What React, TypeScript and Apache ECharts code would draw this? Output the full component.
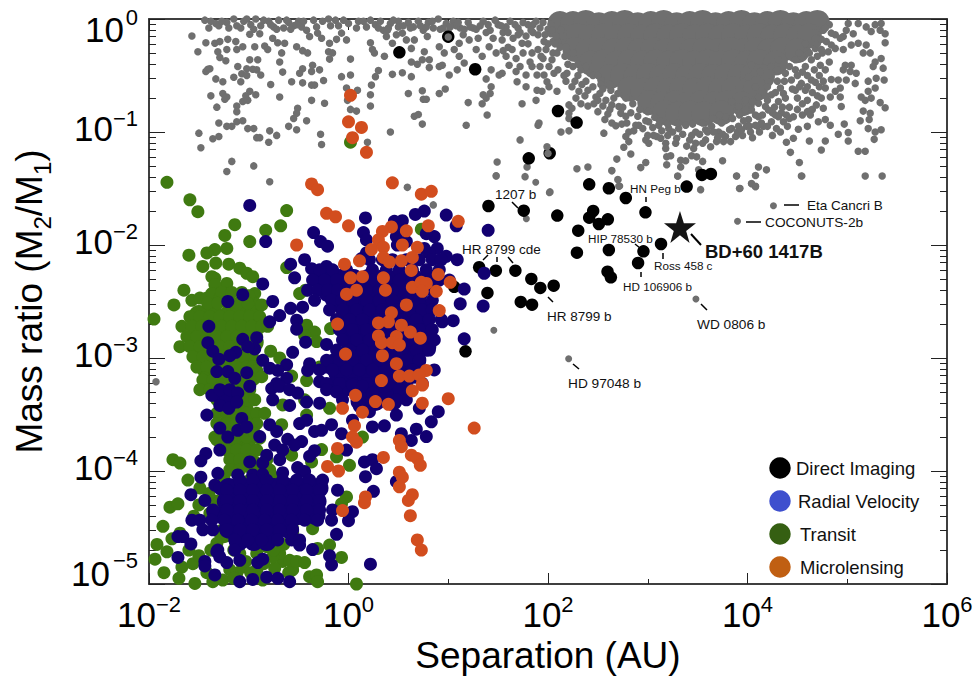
import React, { useEffect, useRef } from "react";
import * as echarts from "echarts";

const grayScatterLeft = [
-1.57,-.15,-1.43,-.21,-1.51,-.29,-1.34,-.215,-1.29,-.2,-1.21,-.18,-1.13,-.2,-1.22,-.27,-1.12,-.27,-1.31,-.29,-1.29,-.34,-1.23,-.37,-1.06,-.245,-.94,-.245,-.84,-.24,-.81,-.27,-.99,-.135,-.89,-.13,-.76,-.17,-.71,-.21,-.64,-.215,-.52,-.245,-.46,-.28,-.41,-.3,-.39,-.155,-.31,-.125,-.27,-.17,-.19,-.215,-.12,-.18,-.07,-.125,-.02,-.185,-.2,-.29,-.16,-.3,-.19,-.355,.02,-.355,-.67,-.3,-.69,-.38,-.99,-.36,-1.11,-.42,-1.02,-.44,-.91,-.36,-.92,-.45,-.96,-.445,-.88,-.495,-.66,-.47,-.46,-.44,-.49,-.48,-.37,-.465,-.36,-.41,-.29,-.45,-1.41,-.445,-1.43,-.465,-1.39,-.44,-1.33,-.53,-1.26,-.555,-1.15,-.515,-1.07,-.485,-1.02,-.5,-1.08,-.555,-.78,-.58,-.57,-.555,-.46,-.565,-.37,-.585,-.34,-.585,-.25,-.545,-.07,-.51,.02,-.495,-.02,-.61,.09,-.63,.22,-.67,.23,-.585,.27,-.51,.3,-.455,.44,-.49,.54,-.475,.63,-.51,
-1.38,-.68,-1.26,-.66,-1.22,-.69,-1.24,-.71,-1.32,-.78,-1.12,-.77,-1.12,-.82,-1.06,-.73,-1.01,-.72,-1.03,-.68,-.99,-.64,-.93,-.67,-.69,-.69,-.37,-.72,-.24,-.745,-.51,-.79,-.52,-.835,-.55,-.88,-.42,-.9,.02,-.8,.08,-.815,.22,-.77,-.01,-.72,.75,-.71,.78,-.71,.74,-.635,.6,-.66,.91,-.66,.97,-.62,1.2,-.74,1.34,-.75,1.38,-.7,1.35,-.67,1.42,-.66,1.43,-.6,1.39,-.85,1.74,-.75,1.88,-.72,1.9,-.94,.66,-.86,.7,-.845,.74,-.93,1.18,-.94,
-1.3,-.92,-1.22,-.95,-1.17,-.95,-1.12,-.91,-1.06,-.9,-1.01,-.97,-.95,-.97,-.6,-.95,-.52,-.98,-.79,-.99,-1.5,-1.01,-1.36,-1.06,-1.3,-1.04,-.92,-1.05,-.89,-1.05,-.8,-1.09,-.72,-1.03,-.28,-1.02,-.27,-1.11,-1.48,-1.14,.19,-1.09,.42,-1,1.72,-1.07,1.49,-1.265,1.48,-1.39,-1.17,-1.26,-.95,-1.3,-1.22,-1.35,-.79,-1.44,.59,-1.49,.85,-1.645,1.79,-1.31,1.77,-1.395,-1.93,-3.21,
];
const grayScatterMiddle = [
.22,-.21,.24,-.27,.26,-.3,.36,-.33,.38,-.155,.39,-.1,.44,-.215,.48,-.14,.54,-.125,.58,-.185,.63,-.26,.66,-.185,.76,-.29,.79,-.155,.74,-.36,.81,-.36,.63,-.38,.69,-.4,.81,-.43,.91,-.42,.94,-.41,1.01,-.495,1.09,-.45,1.16,-.39,1.11,-.33,1.06,-.27,.96,-.3,.91,-.245,1.11,-.215,1.21,-.185,1.28,-.27,1.34,-.33,1.41,-.245,1.48,-.3,1.54,-.185,1.58,-.33,1.64,-.27,1.74,-.215,1.84,-.3,1.54,-.48,1.61,-.41,1.68,-.465,1.69,-.555,1.78,-.495,1.78,-.6,1.89,-.63,1.43,-.45,1.38,-.53,1.51,-.495,1.84,-.42,1.89,-.495,1.55,-.28,1.68,-.35,1.75,-.3,1.82,-.38,1.92,-.42,1.96,-.2,1.72,-.42,
];
const grayTopBand = [
-1.44,-.01,-1.4,-.08,-1.33,-.04,-1.3,-.06,-1.22,-.03,-1.15,0,-1.12,-.06,-1.05,-.02,-.98,-.05,-.93,0,-.88,-.06,-.8,-.02,-.75,-.07,-.7,-.01,-.65,-.08,-.6,-.03,-.55,-.06,-.5,-.02,-.47,-.07,-.35,-.01,-.2,0,-.13,-.01,-.05,-.01,.08,-.08,.18,-.07,.27,-.05,.35,-.1,.42,-.04,.5,-.02,.6,-.03,.7,-.02,.8,-.03,.9,0,.98,-.04,1.05,-.02,1.12,-.08,1.2,-.03,1.28,-.09,1.35,-.02,1.42,-.1,1.5,-.05,1.55,-.12,1.62,-.02,1.7,-.08,1.78,-.15,1.85,-.05,1.9,-.14,1.95,-.03,2,-.09,2.05,-.2,1.65,-.17,1.45,-.17,1.3,-.17,1.15,-.14,1,-.12,.85,-.08,.65,-.07,.5,-.07,.32,-.02,.75,-.1,.92,-.09,1.08,-.06,1.25,-.08,1.4,-.05,1.58,-.07,1.75,-.03,1.6,-.25,1.7,-.14,1.8,-.22,1.85,-.12,1.9,-.27,1.95,-.35,2,-.22,2.05,-.3,2.1,-.2,
-1.38,-.02,-1.27,-.02,-1.2,-.08,-1.08,-.08,-1.02,0,-.95,-.09,-.85,-.01,-.78,-.05,-.72,-.09,-.62,-.01,-.58,-.09,-.52,-.05,-.45,-.02,-.42,-.1,-.32,-.07,-.26,-.02,-.18,-.06,-.1,-.06,0,-.04,.1,-.02,.15,-.02,.22,-.01,.3,-.08,.4,-.08,.45,-.01,.55,-.06,.62,-.08,.72,-.06,.78,-.07,.84,-.02,.95,-.08,1.02,-.07,1.1,-.03,1.16,-.09,1.22,-.07,1.32,-.06,1.38,-.12,1.47,-.01,1.53,-.06,1.6,-.12,1.67,-.05,1.72,-.12,1.8,-.05,1.83,-.1,1.88,-.02,1.92,-.08,1.97,-.14,2.03,-.05,2.03,-.13,
];
const grayRight = [
5.01,-.04,5.11,-.04,5.19,-.07,5.28,-.05,5.34,-.04,5.38,-.13,5.38,-.21,5.33,-.1,5.24,-.11,5.06,-.13,4.99,-.1,4.88,-.14,4.96,-.155,4.84,-.125,4.93,-.17,4.79,-.2,4.84,-.23,4.74,-.27,4.81,-.29,4.88,-.26,4.96,-.27,5.04,-.23,5.11,-.215,5.19,-.23,5.16,-.3,5.23,-.3,5.28,-.38,5.34,-.35,5.36,-.435,5.26,-.42,5.04,-.41,4.98,-.41,4.96,-.45,5.03,-.465,5.09,-.48,4.99,-.54,5.08,-.57,5.21,-.55,5.29,-.525,5.37,-.54,5.28,-.61,5.21,-.64,5.14,-.69,5.18,-.72,5.24,-.7,5.33,-.74,5.38,-.785,5.16,-.815,5.23,-.835,5.22,-.89,5.13,-.9,5.21,-.97,5.28,-1,5.34,-.98,5.27,-1.065,5.11,-1.17,5.18,-1.17,5.18,-1.39,5.35,-1.39,
4.91,-.54,4.84,-.535,4.78,-.61,4.88,-.64,4.93,-.61,4.93,-.69,4.83,-.69,4.74,-.7,4.69,-.76,4.76,-.79,4.94,-.775,4.64,-.805,4.63,-.85,4.71,-.91,4.78,-.89,4.83,-.94,4.97,-.93,4.91,-1.02,5.01,-1.005,5.01,-1.08,4.74,-1.16,4.78,-1.08,4.62,-1.08,4.54,-1.39,4.52,-1.27,4.43,-1.18,4.39,-1.09,4.46,-1.055,4.51,-.975,4.46,-.865,4.39,-.85,4.31,-.865,4.36,-.91,4.29,-.97,4.24,-.91,4.28,-.85,4.21,-.805,4.14,-.92,4.08,-.94,
];
const grayBlobEdge = [
3.99,-.95,4.03,-1,3.95,-1.03,3.88,-1.04,3.83,-1.085,3.76,-1.085,3.69,-1.085,3.63,-1.13,3.58,-1.07,3.48,-1.1,3.46,-1.145,3.39,-1.125,3.29,-1.055,3.18,-1.1,3.18,-1.145,3.19,-1.22,3.23,-1.21,3.19,-1.29,3.33,-1.25,3.38,-1.255,3.33,-1.31,3.44,-1.21,3.49,-1.22,3.55,-1.26,3.75,-1.255,3.51,-1.335,3.3,-1.39,3.89,-1.39,4.08,-1.385,4.11,-1.31,4.19,-1.335,4.04,-1.455,4.08,-1.485,3.92,-1.5,3.53,-1.51,
3.01,-1.1,2.98,-1.07,3.09,-1.04,3.13,-1.055,2.91,-.94,2.81,-1,2.78,-1.04,2.81,-1.085,2.76,-1.135,2.83,-1.195,2.69,-1.24,2.98,-1.27,2.93,-1.315,2.64,-1.34,2.4,-1.31,2.29,-1.325,2.7,-1.42,2.71,-1.48,2.02,-1.53,2.56,-1.01,2.57,-.89,2.68,-.945,2.74,-.93,2.79,-.92,2.88,-.94,2.21,-.99,2.13,-1,2.4,-.77,2.33,-.75,2.21,-.76,2.24,-.79,2.21,-.835,2.21,-.88,2.5,-.82,2.55,-.77,2.64,-.76,2.71,-.775,2.73,-.835,2.48,-.69,1.99,-.555,1.91,-.92,1.96,-.495,1.94,-.64,2.01,-.6,2.09,-.64,2.24,-.6,2.31,-.64,2.34,-.58,2.19,-.48,2.04,-.36,2.01,-.42,2.06,-.48,1.93,-.33,2.09,-.3,1.98,-.27,2.04,-.1,2.63,-.63,2.53,-.54,2.53,-.58,
3.31,-.97,3.38,-.94,3.58,-.98,3.71,-1,3.84,-.97,3.91,-.95,4.01,-.89,4.11,-.865,4.04,-.805,4.18,-.775,4.31,-.73,4.11,-.745,3.91,-.775,3.84,-.73,3.98,-.72,4.11,-.69,4.24,-.67,4.38,-.7,4.48,-.63,4.58,-.63,4.64,-.54,4.54,-.57,4.44,-.54,4.33,-.61,4.21,-.555,4.08,-.6,4.01,-.51,4.13,-.465,4.24,-.42,4.38,-.48,4.48,-.45,4.58,-.42,4.64,-.36,4.73,-.41,4.54,-.33,4.68,-.26,4.48,-.36,4.31,-.36,4.04,-.41,3.01,-.91,3.11,-.94,3.21,-.97,3.48,-1,3.64,-.95,3.74,-.92,3.78,-.865,
2.12,-.25,2.17,-.33,2.25,-.42,2.3,-.5,2.38,-.55,2.45,-.6,2.52,-.66,2.58,-.72,2.66,-.7,2.75,-.78,2.83,-.83,2.9,-.86,2.98,-.9,3.05,-.96,3.14,-.99,3.25,-1,3.35,-1.02,3.44,-1.03,3.52,-1.02,3.6,-1,3.66,-1,3.75,-1.02,3.82,-.98,3.9,-1,3.96,-.9,4.02,-.95,4.08,-.85,4.15,-.85,4.2,-.72,4.27,-.78,4.35,-.78,4.42,-.78,4.5,-.7,4.55,-.75,4.6,-.72,4.65,-.65,4.72,-.6,4.72,-.5,4.78,-.45,4.82,-.38,4.7,-.22,4.76,-.1,4.82,-.05,4.68,-.12,2.15,-.15,2.3,-.4,2.42,-.48,2.16,-.5,2.28,-.7,2.37,-.68,2.46,-.75,2.6,-.84,2.64,-.92,2.86,-.99,3,-1.03,3.28,-1.1,3.42,-1.07,3.55,-1.1,3.7,-1.05,3.78,-1.04,3.94,-.98,4.16,-.95,4.25,-1.03,4.33,-1,4.4,-.95,4.55,-.85,4.6,-.95,4.65,-.8,4.05,-1.05,
];
const grayDense = [
4.3,-.45,4.37,-.55,4.42,-.42,4.5,-.5,4.55,-.47,4.6,-.5,4.67,-.45,4.7,-.33,4.75,-.3,4.6,-.28,4.68,-.17,4.74,-.18,4.78,-.08,4.62,-.3,4.52,-.3,4.58,-.22,4.45,-.62,4.36,-.66,4.28,-.65,4.52,-.6,4.6,-.6,4.68,-.56,4.76,-.55,4.7,-.68,4.6,-.82,4.5,-.8,4.42,-.88,4.34,-.83,4.25,-.83,4.2,-.95,4.12,-1,4.18,-.68,4.3,-.55,4.2,-.6,
2.08,-.15,2.13,-.1,2.07,-.22,2.18,-.25,2.25,-.3,2.2,-.4,2.33,-.45,2.38,-.42,2.45,-.5,2.5,-.5,2.55,-.62,2.62,-.58,2.7,-.66,2.78,-.7,2.85,-.75,2.92,-.8,3,-.82,3.07,-.87,3.12,-.9,3.2,-.93,2.1,-.45,2.18,-.55,2.27,-.55,2.4,-.63,2.5,-.72,2.62,-.8,2.78,-.86,2.95,-.97,3.06,-1.03,3.2,-1.03,
3.3,-.92,3.45,-.93,3.55,-.92,3.65,-.88,3.72,-.85,3.85,-.88,3.92,-.85,3.98,-.8,4.05,-.73,4.1,-.95,
];
const grayAnnotated = [
4.26,-1.652,3.9,-1.79,3.483,-2.478,2.207,-3.006,1.457,-2.755,1.783,-1.767,2.013,-1.537,1.877,-1.445,1.48,-1.386,2.72,-1.478,2.703,-1.424,2.64,-1.345,3.3,-1.392,3.893,-1.389,3.927,-1.498,4.043,-1.46,4.083,-1.478,4.547,-1.389,
];
// The solid core of the dense cloud, read as overlapping wide marks.
const grayCore = [
2.12,-.04,2.25,-.04,2.38,-.03,2.51,-.05,2.64,-.04,2.77,-.03,2.9,-.05,3.03,-.04,3.16,-.03,3.29,-.05,3.42,-.04,3.55,-.03,3.68,-.05,3.81,-.04,3.94,-.03,4.07,-.05,4.2,-.04,4.33,-.03,4.46,-.05,4.59,-.04,4.7,-.03,
2.17,-.16,2.3,-.15,2.43,-.16,2.56,-.15,2.69,-.16,2.82,-.15,2.95,-.16,3.08,-.15,3.21,-.16,3.34,-.15,3.47,-.16,3.6,-.15,3.73,-.16,3.86,-.15,3.99,-.16,4.12,-.15,4.25,-.16,4.38,-.15,4.51,-.16,4.62,-.15,
2.27,-.27,2.4,-.28,2.53,-.27,2.66,-.28,2.79,-.27,2.92,-.28,3.05,-.27,3.18,-.28,3.31,-.27,3.44,-.28,3.57,-.27,3.7,-.28,3.83,-.27,3.96,-.28,4.09,-.27,4.22,-.28,4.35,-.27,4.5,-.28,
2.43,-.39,2.56,-.38,2.69,-.39,2.82,-.38,2.95,-.39,3.08,-.38,3.21,-.39,3.34,-.38,3.47,-.39,3.6,-.38,3.73,-.39,3.86,-.38,3.99,-.39,4.12,-.38,4.28,-.39,
2.62,-.51,2.75,-.5,2.88,-.51,3.01,-.5,3.14,-.51,3.27,-.5,3.4,-.51,3.53,-.5,3.66,-.51,3.79,-.5,3.92,-.51,4.05,-.5,4.15,-.51,
2.82,-.62,2.95,-.63,3.08,-.62,3.21,-.63,3.34,-.62,3.47,-.63,3.6,-.62,3.73,-.63,3.86,-.62,4.0,-.63,4.08,-.62,
3.02,-.74,3.15,-.75,3.28,-.74,3.41,-.75,3.54,-.74,3.67,-.75,3.8,-.74,3.95,-.75,
3.17,-.83,3.3,-.84,3.43,-.83,3.56,-.84,3.74,-.83,
];
const grayOver = [1.0,-.16,2.0,-1.19,1.99,-1.13];

const blackPoints = [
1.403,-1.655,1.757,-1.696,2.093,-1.74,2.413,-1.463,2.61,-1.498,2.78,-1.584,2.977,-1.711,3.39,-1.483,3.543,-1.38,3.633,-1.371,2.453,-1.699,2.413,-1.758,2.51,-1.814,2.6,-1.773,2.303,-1.873,2.29,-2.068,2.61,-2.044,3.133,-1.991,2.957,-2.056,2.903,-2.159,2.597,-2.236,2.63,-2.286,1.31,-2.197,1.477,-2.227,1.673,-2.227,1.833,-2.3,1.923,-2.38,2.057,-2.36,1.727,-2.504,1.84,-2.528,1.393,-2.424,1.173,-2.941,.51,-.295,1.0,-.156,1.27,-.445,1.807,-1.233,2.1,-.814,2.287,-.917,2.017,-1.188,1.06,-2.37,
];
const starPoint = [3.323,-1.84];

const greenPoints = [
-1.82,-1.445,-1.59,-1.6,-1.51,-1.705,-.62,-1.695,-1.14,-1.82,-.68,-1.83,-.83,-1.87,-1.24,-1.915,-.99,-1.97,-1.22,-2.03,-1.34,-2.04,-1.42,-2.07,-1.6,-2.09,-1.46,-2.19,-1.33,-2.16,-1.2,-2.17,-1.09,-2.205,-1.02,-2.25,-.96,-2.28,-1.34,-2.295,-1.22,-2.34,-1.65,-2.4,-1.75,-2.53,-1.95,-2.655,-1.57,-2.49,-1.49,-2.47,-1.42,-2.47,-.94,-2.43,-.94,-2.515,-.87,-2.53,-1.37,-2.28,-1.34,-2.35,-1.37,-2.43,-1.29,-2.47,-1.27,-2.42,-1.17,-2.42,-1.07,-2.42,-1,-2.45,
-1.41,-2.515,-1.31,-2.515,-1.21,-2.515,-1.11,-2.515,-1.01,-2.515,-1.59,-2.634,-1.49,-2.634,-1.39,-2.634,-1.29,-2.634,-1.19,-2.634,-1.09,-2.634,-.99,-2.634,-.89,-2.634,-1.67,-2.72,-1.57,-2.72,-1.47,-2.72,-1.37,-2.72,-1.27,-2.72,-1.17,-2.72,-1.07,-2.72,-.97,-2.72,-.87,-2.72,-.81,-2.72,
-1.62,-2.81,-1.52,-2.81,-1.42,-2.81,-1.32,-2.81,-1.22,-2.81,-1.12,-2.81,-1.02,-2.81,-.92,-2.81,-1.69,-2.9,-1.59,-2.9,-1.49,-2.9,-1.39,-2.9,-1.29,-2.9,-1.19,-2.9,-1.09,-2.9,-.99,-2.9,-1.56,-2.99,-1.46,-2.99,-1.36,-2.99,-1.26,-2.99,-1.16,-2.99,-1.06,-2.99,-1.52,-3.08,-1.42,-3.08,-1.32,-3.08,-1.22,-3.08,-1.12,-3.08,-1.02,-3.08,-.96,-3.08,-1.44,-3.18,-1.34,-3.18,-1.24,-3.18,-1.14,-3.18,-1.04,-3.18,-.94,-3.18,
-1.46,-3.195,-1.36,-3.195,-1.26,-3.195,-1.16,-3.195,-1.06,-3.195,-.96,-3.195,-1.49,-3.28,-1.39,-3.28,-1.29,-3.28,-1.19,-3.28,-1.09,-3.28,-.99,-3.28,-1.32,-3.37,-1.22,-3.37,-1.12,-3.37,-1.02,-3.37,-.94,-3.37,-1.32,-3.49,-1.22,-3.49,-1.12,-3.49,-1.02,-3.49,-.92,-3.49,-.84,-3.49,-1.32,-3.58,-1.22,-3.58,-1.12,-3.58,-1.02,-3.58,-.92,-3.58,-1.34,-3.7,-1.22,-3.7,-1.12,-3.7,-1.02,-3.7,-.92,-3.7,-1.22,-3.815,-1.12,-3.815,-1.02,-3.815,-.92,-3.815,-1.19,-3.9,-1.09,-3.9,-.99,-3.9,-.82,-3.9,-1.19,-3.99,-1.09,-3.99,-.96,-3.99,-.79,-3.99,
-1.76,-3.9,-1.69,-3.93,-1.61,-4.08,-1.49,-4.15,-1.79,-4.32,-1.71,-4.29,-1.86,-4.49,-1.92,-4.65,-1.82,-4.715,-1.94,-4.78,-1.77,-4.6,-1.69,-4.55,-1.67,-4.85,-1.56,-4.82,-1.32,-4.64,-1.36,-4.26,-1.39,-4.375,-1.29,-4.26,-1.54,-4.995,-1.36,-4.98,-1.26,-4.965,-1.19,-4.875,-1.12,-4.905,-1.06,-4.85,-.66,-4.8,-.59,-4.79,-.56,-4.875,-.52,-4.8,-.44,-4.81,-.74,-4.86,-.39,-4.935,-.32,-4.92,-.31,-4.98,-.07,-4.765,-.19,-4.655,-.31,-4.685,-.36,-4.51,-.56,-4.54,-.69,-4.73,-.72,-4.67,-.76,-4.76,.01,-3.95,-.12,-3.875,-.27,-3.81,-.37,-3.92,.08,-5,.14,-3.7,-.02,-4.23,-.07,-4.29,-.67,-3.59,-.89,-3.71,-.94,-3.67,-.42,-3.505,-.66,-3.415,-.44,-3.37,-.19,-3.445,-1.32,-3.725,-.57,-3.86,-.76,-4.05,-1.79,-5.04,-1.29,-5.02,-.92,-4.875,-.86,-4.965,-.99,-4.08,-1.09,-4.73,-.92,-4.73,-.82,-4.67,
-.42,-2.71,-.34,-2.77,-.44,-2.8,-.32,-2.855,-.18,-2.74,-.49,-2.43,-.43,-2.4,-.62,-2.2,-.3,-2.265,-.42,-3.2,-.29,-3.08,-.57,-3.16,-.78,-2.94,-.69,-3,-.92,-3.11,-.87,-3.165,.73,-1.86,.02,-1.09,
-1.85,-4.9,-1.7,-4.95,-1.6,-4.7,-1.5,-4.75,-1.42,-4.9,-1.38,-4.7,-1.15,-4.7,-1.03,-4.8,-.98,-4.9,-1.15,-4.95,-.85,-4.82,-.75,-4.7,-.65,-4.65,-.6,-4.9,-1,-4.55,-1.55,-4.4,-1.5,-4.3,-1.4,-4.2,-1.25,-4.05,-1.05,-4.1,-.9,-3.98,-.78,-4.2,
];
// The solid parts of the two crowded clouds, read as overlapping wide marks.
const greenCore = [
-1.5,-2.62,-1.35,-2.62,-1.2,-2.62,-1.05,-2.62,-.95,-2.62,-1.5,-2.74,-1.35,-2.74,-1.2,-2.74,-1.05,-2.74,-.95,-2.74,-1.5,-2.86,-1.35,-2.86,-1.2,-2.86,-1.05,-2.86,-.95,-2.86,-1.45,-2.98,-1.3,-2.98,-1.15,-2.98,-1,-2.98,-1.42,-3.1,-1.27,-3.1,-1.12,-3.1,-1,-3.1,-1.32,-3.22,-1.18,-3.22,-1.03,-3.22,-1.2,-3.34,-1.05,-3.34,-1.2,-3.46,-1.05,-3.46,-1.2,-3.58,-1.03,-3.58,-1.2,-3.7,-1.03,-3.7,-1.15,-3.82,-1,-3.82,-1.1,-3.94,-.97,-3.94,-1.1,-4.3,-.9,-4.3,-1.25,-4.55,-.6,-4.5,
];
const blueCore = [
-.25,-2.3,-.1,-2.3,.05,-2.3,.2,-2.3,.35,-2.3,.5,-2.3,.65,-2.3,.8,-2.3,-.2,-2.42,-.05,-2.42,.1,-2.42,.25,-2.42,.4,-2.42,.55,-2.42,.7,-2.42,-.05,-2.54,.1,-2.54,.25,-2.54,.4,-2.54,.55,-2.54,.7,-2.54,-.02,-2.66,.13,-2.66,.28,-2.66,.43,-2.66,.58,-2.66,.73,-2.66,.02,-2.78,.17,-2.78,.32,-2.78,.47,-2.78,.62,-2.78,.77,-2.78,.03,-2.9,.18,-2.9,.33,-2.9,.48,-2.9,.63,-2.9,.78,-2.9,-.02,-3.02,.13,-3.02,.28,-3.02,.43,-3.02,.58,-3.02,.68,-3.02,-.1,-3.14,.05,-3.14,.2,-3.14,.35,-3.14,.5,-3.14,.65,-3.14,-.05,-3.26,.1,-3.26,.25,-3.26,.4,-3.26,.55,-3.26,.12,-3.38,.27,-3.38,.44,-3.38,
-1.2,-4.15,-1.05,-4.15,-.9,-4.15,-.75,-4.15,-.6,-4.15,-.45,-4.15,-.3,-4.15,-1.22,-4.27,-1.07,-4.27,-.92,-4.27,-.77,-4.27,-.62,-4.27,-.47,-4.27,-.32,-4.27,-1.25,-4.39,-1.1,-4.39,-.95,-4.39,-.8,-4.39,-.65,-4.39,-.5,-4.39,-.33,-4.39,-1.2,-4.51,-1.05,-4.51,-.9,-4.51,-.75,-4.51,-.6,-4.51,-1.1,-4.62,-.95,-4.62,-.82,-4.62,-1.27,-3.33,-1.2,-3.38,
];

const bluePoints = [
.76,-1.7,.67,-1.73,.54,-1.785,.46,-1.79,.98,-1.735,1.08,-1.83,.17,-1.76,.15,-1.89,.18,-1.955,-.35,-1.89,-.28,-1.97,-.21,-2.01,-.83,-1.97,-.99,-1.65,.86,-1.925,.89,-2.03,.98,-2.1,1.09,-2.13,1.16,-2.39,1.12,-2.52,1.05,-2.67,.94,-2.68,1.16,-2.83,.78,-1.9,.48,-1.85,.48,-1.925,.58,-1.97,.49,-2,.76,-2.03,.81,-2.07,.18,-2.07,.13,-2.12,1.36,-2.25,1.4,-1.87,1.35,-2.54,
-.58,-2.17,-.44,-2.13,-.37,-2.21,-.54,-2.29,-.22,-2.19,-.86,-2.345,-1.06,-2.44,-1.21,-2.5,-.76,-2.5,-1.4,-2.72,-1.41,-2.865,-1.36,-2.94,-1.3,-3.01,-1.06,-2.835,-.92,-2.82,-.94,-2.92,-1.01,-2.9,-1.13,-2.95,-1.19,-2.98,-1.32,-3.12,-1.21,-3.12,-1.14,-3.18,-1.02,-3.13,-.79,-2.68,-.69,-2.625,-.58,-2.56,-.46,-2.55,-.52,-2.665,-.52,-2.745,-.43,-2.86,-.56,-2.95,-.86,-3.02,-.79,-3.09,-.62,-3.06,-.71,-3.11,-.62,-3.18,-.72,-3.225,-.39,-3.05,-.41,-3.11,-.29,-3.21,-.22,-2.88,-.16,-3.02,-.22,-3.08,-.14,-3.225,
.21,-2.13,.34,-2.13,.44,-2.13,.58,-2.13,.71,-2.13,.84,-2.13,.93,-2.13,-.29,-2.22,-.16,-2.22,-.02,-2.22,.24,-2.22,.38,-2.22,.51,-2.22,.64,-2.22,.78,-2.22,.91,-2.22,-.36,-2.31,-.24,-2.31,-.12,-2.31,-.01,-2.31,.11,-2.31,.24,-2.31,.38,-2.31,.51,-2.31,.64,-2.31,.78,-2.31,.91,-2.31,1.01,-2.31,-.41,-2.4,-.31,-2.4,-.21,-2.4,-.11,-2.4,.04,-2.4,.18,-2.4,.31,-2.4,.44,-2.4,.58,-2.4,.71,-2.4,.84,-2.4,
-.34,-2.49,-.17,-2.49,-.07,-2.49,.04,-2.49,.18,-2.49,.31,-2.49,.44,-2.49,.58,-2.49,.71,-2.49,.84,-2.49,-.19,-2.575,-.06,-2.575,.08,-2.575,.21,-2.575,.34,-2.575,.48,-2.575,.61,-2.575,.74,-2.575,.84,-2.575,-.12,-2.66,.01,-2.66,.14,-2.66,.28,-2.66,.41,-2.66,.54,-2.66,.68,-2.66,.81,-2.66,.93,-2.66,-.09,-2.75,.04,-2.75,.18,-2.75,.31,-2.75,.44,-2.75,.58,-2.75,.71,-2.75,.84,-2.75,-.06,-2.84,.08,-2.84,.21,-2.84,.34,-2.84,.48,-2.84,.61,-2.84,.74,-2.84,.86,-2.84,
-.12,-2.93,.01,-2.93,.14,-2.93,.28,-2.93,.41,-2.93,.54,-2.93,.68,-2.93,.81,-2.93,-.22,-3.02,-.09,-3.02,.04,-3.02,.18,-3.02,.31,-3.02,.44,-3.02,.58,-3.02,.71,-3.02,-.29,-3.106,-.16,-3.106,-.02,-3.106,.11,-3.106,.24,-3.106,.38,-3.106,.51,-3.106,.64,-3.106,.86,-3.106,-.22,-3.225,-.09,-3.225,.04,-3.225,.18,-3.225,.31,-3.225,.44,-3.225,.58,-3.225,.74,-3.225,
-1.37,-3.33,-1.29,-3.28,-1.19,-3.28,-1.11,-3.31,-1.29,-3.42,-1.2,-3.445,-1.12,-3.39,-.99,-3.25,-1.42,-3.505,-1.29,-3.62,-1.21,-3.7,-1.11,-3.64,-1.07,-3.535,-1.02,-3.61,-.79,-3.59,-.72,-3.65,-.89,-3.695,-.61,-3.72,-.49,-3.58,-.42,-3.55,-.34,-3.65,-.27,-3.64,-.17,-3.59,-.07,-3.67,.24,-3.61,.36,-3.6,.48,-3.505,.68,-3.63,.83,-3.565,.9,-3.475,.78,-3.695,.63,-3.73,.53,-3.67,-.02,-3.815,.16,-3.92,.24,-3.9,.28,-3.98,.17,-4.05,.48,-4.095,.25,-4.18,.04,-4.36,0,-4.44,-.12,-4.56,
-.77,-3.27,-.69,-3.25,-.59,-3.28,-.51,-3.31,-.42,-3.39,-.76,-3.37,-.59,-3.42,-.29,-3.4,-.22,-3.28,-.12,-3.3,-.06,-3.37,.04,-3.24,.14,-3.25,.24,-3.31,.41,-3.22,.51,-3.28,.58,-3.37,.71,-3.445,.11,-3.43,.21,-3.475,.04,-3.55,.48,-3.37,
-1.29,-3.815,-1.43,-3.845,-1.48,-3.91,-.99,-3.92,-.74,-3.77,-.66,-3.815,-.47,-3.74,-.54,-3.77,-.34,-3.82,-.39,-3.87,-.82,-3.86,-.86,-3.93,-.69,-3.9,-.51,-3.97,-.44,-4.005,-.66,-4.015,-1.48,-4.055,-1.31,-4.02,-1.34,-4.125,-1.29,-4.155,-1.11,-4.035,-.96,-4.035,-.86,-4.03,-1.58,-4.21,-1.44,-4.26,-1.36,-4.36,
-1.09,-4.08,-.96,-4.08,-.82,-4.08,-.66,-4.08,-.52,-4.08,-.39,-4.08,-.26,-4.08,-1.22,-4.17,-1.09,-4.17,-.96,-4.17,-.82,-4.17,-.69,-4.17,-.56,-4.17,-.42,-4.17,-.29,-4.17,-.11,-4.17,-1.22,-4.26,-1.09,-4.26,-.96,-4.26,-.82,-4.26,-.69,-4.26,-.56,-4.26,-.42,-4.26,-.29,-4.26,-1.36,-4.345,-1.22,-4.345,-1.09,-4.345,-.96,-4.345,-.82,-4.345,-.69,-4.345,-.56,-4.345,-.42,-4.345,-.29,-4.345,-.16,-4.345,
-1.57,-4.435,-1.49,-4.435,-1.37,-4.435,-1.24,-4.435,-1.11,-4.435,-.97,-4.435,-.84,-4.435,-.71,-4.435,-.57,-4.435,-.44,-4.435,-.31,-4.435,-.17,-4.435,-1.46,-4.52,-1.36,-4.52,-1.22,-4.52,-1.09,-4.52,-.96,-4.52,-.82,-4.52,-.69,-4.52,-.56,-4.52,-1.14,-4.61,-1.01,-4.61,-.87,-4.61,-.71,-4.61,-.57,-4.61,-.49,-4.61,-1.31,-4.7,-1.14,-4.7,
-1.71,-4.58,-1.66,-4.58,-1.58,-4.645,-1.71,-4.765,-1.44,-4.8,-1.44,-4.84,-1.32,-4.715,-1.29,-4.76,-1.22,-4.81,-1.09,-4.79,-1.34,-4.92,-1.09,-4.98,-.96,-4.96,-.82,-4.94,-.71,-4.95,-.59,-4.98,-.91,-4.81,-.86,-4.78,-.49,-4.655,-.36,-4.695,-.19,-4.75,-.17,-4.83,.22,-4.825,
];

const orangePoints = [
.02,-.675,0,-.91,.13,-.96,.04,-1.05,.18,-1.18,-.37,-1.46,-.31,-1.51,.44,-1.45,.73,-1.55,.83,-1.525,-.22,-1.72,-.13,-1.75,0,-1.83,-.52,-2,.43,-1.84,.34,-1.88,.58,-1.875,.3,-1.955,.54,-2,.23,-2.04,.35,-2.02,.8,-1.83,1.1,-1.79,.69,-2.02,.35,-2.11,.41,-2.15,.53,-2.14,.64,-2.11,.63,-2.225,.11,-2.14,-.04,-2.17,.02,-2.29,.14,-2.28,.35,-2.29,.9,-2.26,1.02,-2.33,.37,-2.4,.08,-2.4,-.02,-2.435,.64,-2.375,.73,-2.33,.78,-2.34,.74,-2.41,.88,-2.41,.58,-2.53,.91,-2.58,.43,-2.6,.4,-2.68,.3,-2.69,-.11,-2.7,.53,-2.71,.62,-2.77,.72,-2.825,.48,-2.81,.3,-2.805,.33,-2.865,.44,-2.865,.51,-2.885,-.03,-2.965,.34,-2.98,.48,-3.05,.78,-3.11,.51,-3.16,.61,-3.16,.71,-3.15,.33,-3.2,.74,-3.23,
.74,-3.24,.64,-3.29,.74,-3.4,1,-3.36,.07,-3.33,.27,-3.385,.4,-3.41,-.06,-3.445,.14,-3.48,.06,-3.6,.04,-3.7,.08,-3.745,-.11,-3.8,.35,-3.88,.51,-3.73,.53,-3.785,.63,-3.86,.69,-3.89,.72,-3.95,-.21,-3.96,-.1,-4,.51,-4.01,.54,-4.055,.51,-4.14,.64,-4.21,.6,-4.26,.17,-4.23,.16,-4.28,-.06,-4.35,.62,-4.395,.69,-4.61,.73,-4.7,1.26,-3.62,
];

const xMajorTicks = [1e-2, 1, 1e2, 1e4, 1e6];
const xMinorTicks = [1e-1, 1e1, 1e3, 1e5];
const yMajorTicks = [1e-5, 1e-4, 1e-3, 1e-2, 1e-1, 1];
const yMiddleLabels = [1e-4, 1e-3, 1e-2, 1e-1];
const yMinorFactors = [2, 3, 4, 5, 6, 7, 8, 9];
const yMinorDecades = [1e-5, 1e-4, 1e-3, 1e-2, 1e-1];
const legendNames = ["Direct Imaging", "Radial Velocity", "Transit", "Microlensing"];
const legendColors = ["#000000", "#3e4fce", "#355f12", "#c05f12"];
const legendRows = [468, 501, 534, 567];
const legendTextLeft = [796, 798, 800, 800];

const toPoints = (flat: number[]) => {
  const out: number[][] = [];
  for (let i = 0; i < flat.length; i += 2) out.push([10 ** flat[i], 10 ** flat[i + 1]]);
  return out;
};
const FONT = "'Liberation Sans', Helvetica, Arial, sans-serif";
const STAR = "path://M50 0 L61.8 35.1 L98.9 35.1 L68.9 56.8 L79.4 90.5 L50 69 L20.6 90.5 L31.1 56.8 L1.1 35.1 L38.2 35.1 Z";

const yMinorTicks = yMinorDecades.flatMap((d) => yMinorFactors.map((f) => d * f));

const tickRich = {
  b: { fontSize: 35, lineHeight: 50, verticalAlign: "top", padding: [4, 0, 0, 0], fontFamily: FONT, color: "#000" },
  s: { fontSize: 22, lineHeight: 24, verticalAlign: "top", fontFamily: FONT, color: "#000" },
};
const expText = (v: number) => {
  const e = Math.round(Math.log10(v));
  return e < 0 ? "\u2212" + -e : String(e);
};
const tickLabel = (v: number) => `{b|10}{s|${expText(v)}}`;

const hiddenAxis = (extra: any) => ({
  type: "log",
  logBase: 10,
  axisLine: { show: true, onZero: false, lineStyle: { color: "#333", width: 1.5 } },
  axisLabel: { show: false },
  splitLine: { show: false },
  minorTick: { show: false },
  minorSplitLine: { show: false },
  ...extra,
});
const xExtent = { min: 1e-2, max: 1e6 };
const yExtent = { min: 1e-5, max: 1 };
const tick = (length: number, customValues: number[]) => ({
  show: true, inside: true, length, customValues,
  lineStyle: { color: "#222", width: 1 },
});

const line = (x1: number, y1: number, x2: number, y2: number, lineWidth = 1.5) => ({
  type: "line", shape: { x1, y1, x2, y2 }, style: { stroke: "#000", lineWidth }, z: 20,
});
const label = (text: string, x: number, y: number, fontSize: number, fontWeight = "normal") => ({
  type: "text", x, y, z: 20,
  style: { text, fontSize, fontWeight, fontFamily: FONT, fill: "#111", verticalAlign: "middle", align: "left" },
});
const rightLabel = (text: string, x: number, y: number, fontSize: number) => ({
  type: "text", x, y, z: 20,
  style: { text, fontSize, fontFamily: FONT, fill: "#000", verticalAlign: "middle", align: "right" },
});

export default function App() {
  const ref = useRef<HTMLDivElement>(null);
  useEffect(() => {
    const chart = echarts.init(ref.current!, undefined, { renderer: "svg" });
    const scatter = (name: string, flat: number[], color: string, symbolSize: number, extra: any = {}) => ({
      name, type: "scatter", data: toPoints(flat), symbolSize, clip: true, large: false,
      itemStyle: { color, opacity: 1 }, silent: true, ...extra,
    });
    const gray = "#6f6f6f";
    const green = "#3f7a10";
    const blue = "#120071";
    chart.setOption({
      animation: false,
      textStyle: { fontFamily: FONT },
      grid: { left: 149, top: 19, width: 798, height: 565, containLabel: false, outerBoundsMode: "none" },
      xAxis: [
        hiddenAxis({
          ...xExtent, position: "bottom",
          axisTick: tick(11, xMajorTicks),
          axisLabel: {
            show: true, margin: 9, customValues: xMajorTicks, showMinLabel: true, showMaxLabel: true, hideOverlap: false,
            formatter: tickLabel, rich: tickRich,
          },
          name: "Separation (AU)", nameLocation: "middle", nameGap: 42,
          nameTextStyle: { fontSize: 37, fontFamily: FONT, color: "#000" },
        }),
        hiddenAxis({ ...xExtent, position: "bottom", axisTick: tick(5, xMinorTicks) }),
        hiddenAxis({ ...xExtent, position: "top", axisTick: tick(11, xMajorTicks) }),
        hiddenAxis({ ...xExtent, position: "top", axisTick: tick(5, xMinorTicks) }),
      ],
      yAxis: [
        hiddenAxis({
          ...yExtent, position: "left",
          axisTick: tick(16, yMajorTicks),
          axisLabel: {
            show: true, margin: 11, customValues: yMiddleLabels, hideOverlap: false,
            formatter: tickLabel, rich: tickRich,
          },
          name: "{a|Mass ratio (M}{t|2}{a|/M}{t|1}{a|)}", nameLocation: "middle", nameGap: 95,
          nameTextStyle: {
            rich: {
              a: { fontSize: 37, lineHeight: 50, verticalAlign: "middle", fontFamily: FONT, color: "#000" },
              t: { fontSize: 24, lineHeight: 22, verticalAlign: "bottom", fontFamily: FONT, color: "#000" },
            },
          },
        }),
        hiddenAxis({ ...yExtent, position: "left", axisTick: tick(7, yMinorTicks) }),
        hiddenAxis({ ...yExtent, position: "right", axisTick: tick(16, yMajorTicks) }),
        hiddenAxis({ ...yExtent, position: "right", axisTick: tick(7, yMinorTicks) }),
      ],
      series: [
        scatter("Other (core)", grayCore, gray, 25),
        scatter("Other (top)", grayTopBand, gray, 7.5),
        scatter("Other (left)", grayScatterLeft, gray, 7.5),
        scatter("Other (middle)", grayScatterMiddle, gray, 7.5),
        scatter("Other (edge)", grayBlobEdge, gray, 7.5),
        scatter("Other (dense)", grayDense, gray, 7.5),
        scatter("Other (right)", grayRight, gray, 7.5),
        scatter("Other (named)", grayAnnotated, gray, 7),
        scatter("Direct Imaging", blackPoints, "#000", 12.5),
        scatter("Other (over)", grayOver, gray, 7.5),
        scatter("Transit (core)", greenCore, green, 20),
        scatter("Transit", greenPoints, green, 13),
        scatter("Radial Velocity (core)", blueCore, blue, 20),
        scatter("Radial Velocity", bluePoints, blue, 13),
        scatter("Microlensing", orangePoints, "#d24d1e", 13),
        scatter("BD+60 1417B", starPoint, "#141414", 32, { symbol: STAR }),
      ],
      graphic: {
        elements: [
          rightLabel("10", 124, 29.5, 35), rightLabel("0", 138, 17, 22),
          rightLabel("10", 110, 573, 35), rightLabel("\u22125", 138, 560.5, 22),
          label("1207 b", 495, 194, 13.5), line(512, 202, 518, 208),
          label("HR 8799 cde", 462, 249, 13.5), line(488, 255, 483, 260), line(497, 257, 497, 262), line(508, 257, 513, 263),
          label("HR 8799 b", 547, 316, 13.5), line(548, 297, 553, 302),
          label("HN Peg b", 630, 188, 11.7), line(646, 197, 646, 202),
          label("HIP 78530 b", 588, 238, 11.7), line(635, 244, 640, 248),
          label("Ross 458 c", 654, 265, 11.7), line(663, 253, 663, 259),
          label("HD 106906 b", 623, 286, 11.7), line(641, 272, 641, 277),
          label("WD 0806 b", 697, 324, 13.7), line(701, 304, 707, 310),
          label("HD 97048 b", 568, 383, 13.7), line(573, 364, 579, 369),
          label("BD+60 1417B", 705, 251, 18.5, "bold"), line(691, 234, 701, 245, 2),
          label("Eta Cancri B", 807, 205, 13.5), line(784, 205, 799, 205),
          label("COCONUTS-2b", 765, 222, 13.7), line(746, 222, 761, 222),
          ...legendNames.flatMap((name, i) => [
            { type: "circle", z: 20, shape: { cx: 780, cy: legendRows[i], r: 10.7 }, style: { fill: legendColors[i] } },
            label(name, legendTextLeft[i], legendRows[i], 18.5),
          ]),
        ],
      },
    });
    return () => chart.dispose();
  }, []);
  return <div ref={ref} style={{ position: "fixed", left: 0, top: 0, width: 977, height: 681, background: "#fff" }} />;
}
